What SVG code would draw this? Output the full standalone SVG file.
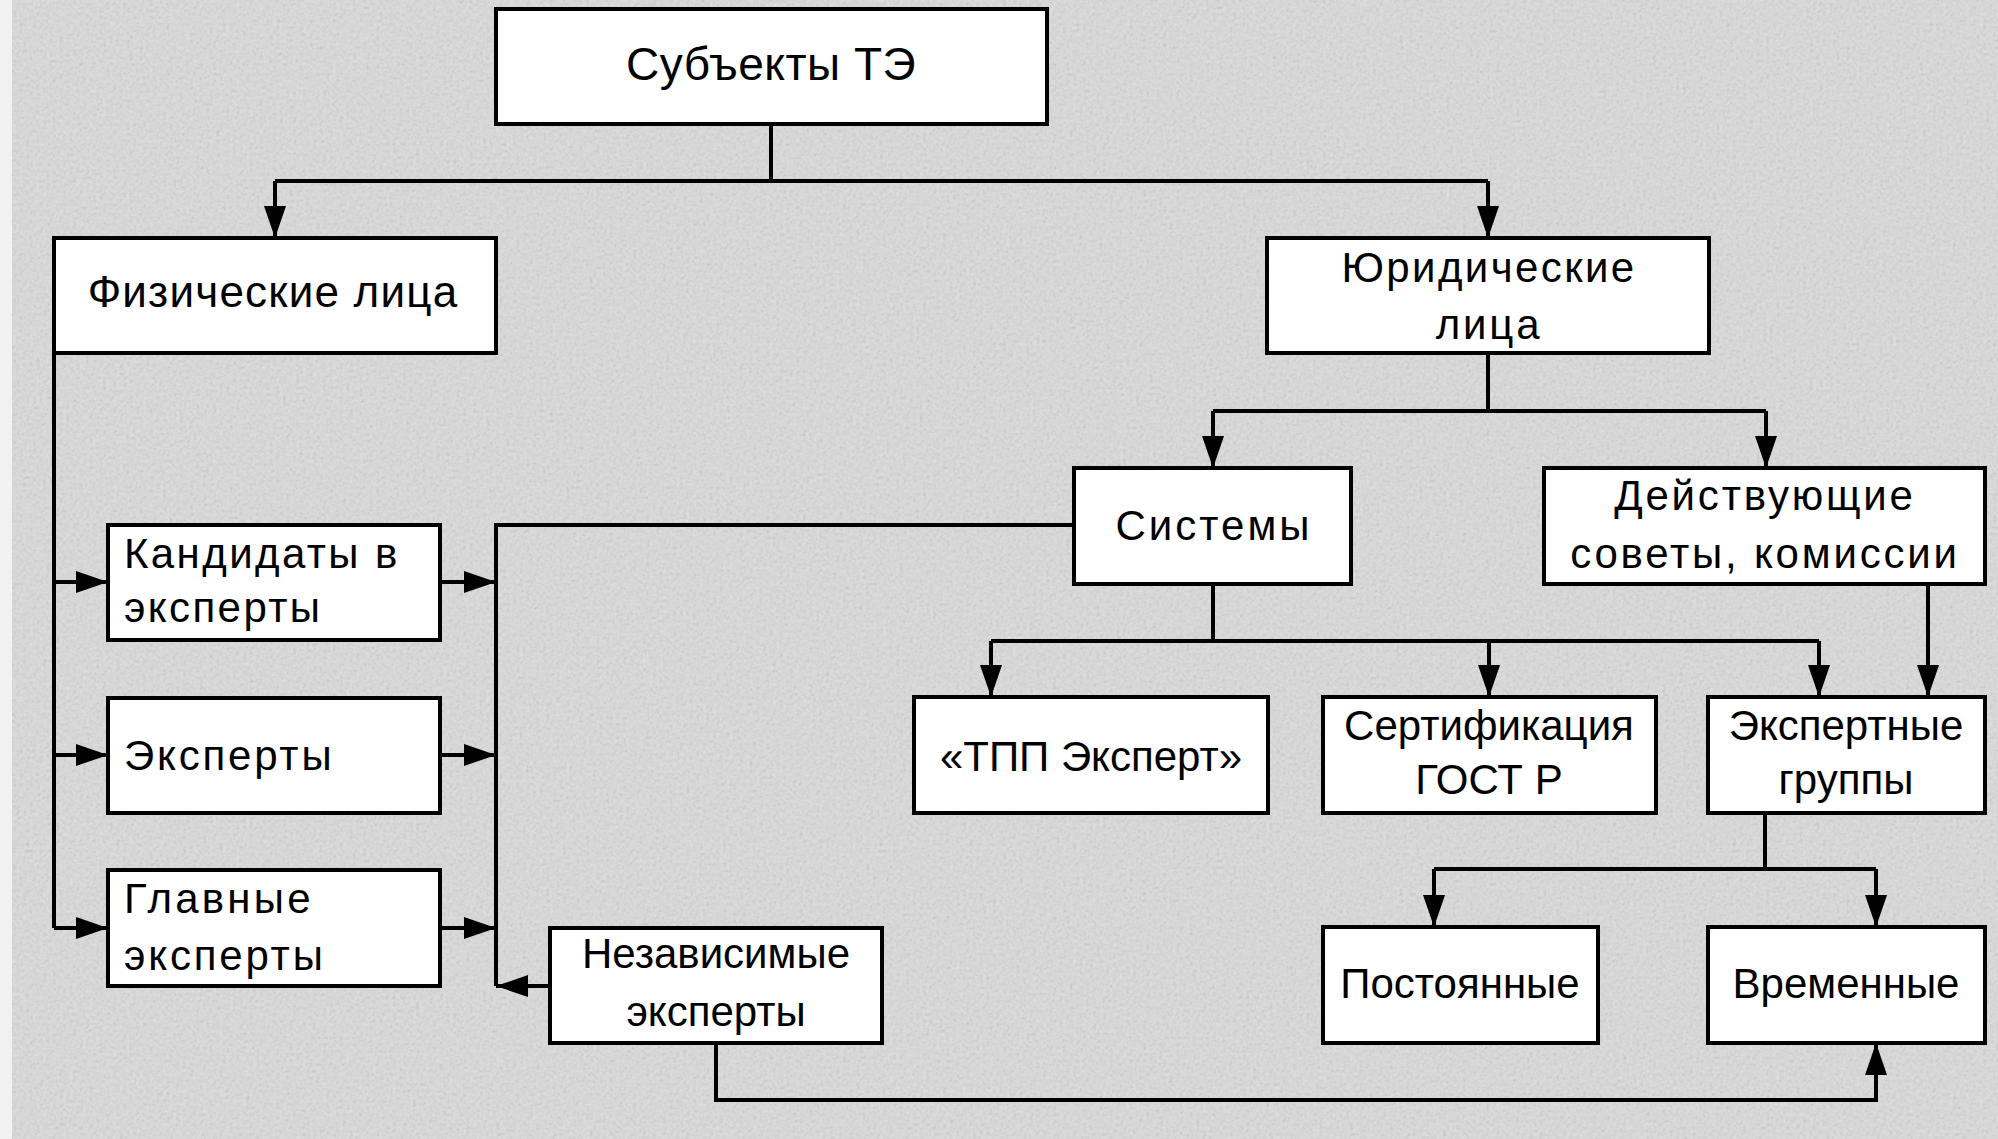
<svg xmlns="http://www.w3.org/2000/svg" width="1998" height="1139" viewBox="0 0 1998 1139">
<defs>
  <filter id="noise" x="0" y="0" width="100%" height="100%">
    <feTurbulence type="fractalNoise" baseFrequency="0.3" numOctaves="2" seed="7"/>
    <feColorMatrix type="saturate" values="0"/>
  </filter>
  <marker id="arr" markerUnits="userSpaceOnUse" markerWidth="32" markerHeight="22" viewBox="0 0 32 22" refX="32" refY="11" orient="auto">
    <path d="M0,0 L32,11 L0,22 z" fill="#000"/>
  </marker>
  <style>
    .box { fill: #ffffff; stroke: #000; stroke-width: 4; }
    .t { font-family: "Liberation Sans", Arial, sans-serif; font-size: 42px; fill: #000; }
    .c { text-anchor: middle; }
    .sp { letter-spacing: 2.8px; }
    .ln { fill: none; stroke: #000; stroke-width: 4; }
    .a { marker-end: url(#arr); }
  </style>
</defs>
<rect x="0" y="0" width="1998" height="1139" fill="#dcdcdc"/>
<rect x="0" y="0" width="1998" height="1139" filter="url(#noise)" opacity="0.35"/>
<rect x="0" y="0" width="12" height="1139" fill="#f2f2f2"/>

<g id="connectors">
  <path class="ln" d="M771,124 V181"/>
  <path class="ln" d="M275,181 H1488"/>
  <path class="ln a" d="M275,181 V238"/>
  <path class="ln a" d="M1488,181 V238"/>
  <path class="ln" d="M54,353 V928"/>
  <path class="ln a" d="M54,582 H108"/>
  <path class="ln a" d="M54,755 H108"/>
  <path class="ln a" d="M54,928 H108"/>
  <path class="ln a" d="M440,582 H496"/>
  <path class="ln a" d="M440,755 H496"/>
  <path class="ln a" d="M440,928 H496"/>
  <path class="ln" d="M1074,525 H496 V986"/>
  <path class="ln a" d="M550,986 H496"/>
  <path class="ln a" d="M716,1043 V1100 H1876 V1043"/>
  <path class="ln" d="M1488,353 V411"/>
  <path class="ln" d="M1213,411 H1766"/>
  <path class="ln a" d="M1213,411 V468"/>
  <path class="ln a" d="M1766,411 V468"/>
  <path class="ln" d="M1213,584 V641"/>
  <path class="ln" d="M991,641 H1819"/>
  <path class="ln a" d="M991,641 V697"/>
  <path class="ln a" d="M1489,641 V697"/>
  <path class="ln a" d="M1819,641 V697"/>
  <path class="ln a" d="M1928,584 V697"/>
  <path class="ln" d="M1765,813 V869"/>
  <path class="ln" d="M1434,869 H1876"/>
  <path class="ln a" d="M1434,869 V927"/>
  <path class="ln a" d="M1876,869 V927"/>
</g>

<g id="n-subjects"><rect class="box" x="496" y="9" width="551" height="115"/><text class="t c" x="771" y="80" style="font-size:46px;letter-spacing:0.5px">Субъекты ТЭ</text></g>
<g id="n-fiz"><rect class="box" x="54" y="238" width="442" height="115"/><text class="t c" x="273" y="307" style="font-size:44px;letter-spacing:1.2px">Физические лица</text></g>
<g id="n-yur"><rect class="box" x="1267" y="238" width="442" height="115"/><text class="t c" x="1489" y="282" style="letter-spacing:2.4px">Юридические</text><text class="t c sp" x="1489" y="339">лица</text></g>
<g id="n-sys"><rect class="box" x="1074" y="468" width="277" height="116"/><text class="t c" x="1214" y="540" style="letter-spacing:3px">Системы</text></g>
<g id="n-dey"><rect class="box" x="1544" y="468" width="441" height="116"/><text class="t c sp" x="1765" y="510">Действующие</text><text class="t c sp" x="1765" y="568">советы, комиссии</text></g>
<g id="n-kand"><rect class="box" x="108" y="525" width="332" height="115"/><text class="t" x="124" y="568" style="letter-spacing:2.4px">Кандидаты в</text><text class="t" x="124" y="622" style="letter-spacing:2.4px">эксперты</text></g>
<g id="n-exp"><rect class="box" x="108" y="698" width="332" height="115"/><text class="t sp" x="124" y="770">Эксперты</text></g>
<g id="n-glav"><rect class="box" x="108" y="870" width="332" height="116"/><text class="t" x="124" y="913" style="letter-spacing:3.2px">Главные</text><text class="t sp" x="124" y="970">эксперты</text></g>
<g id="n-nez"><rect class="box" x="550" y="928" width="332" height="115"/><text class="t c" x="716" y="968">Независимые</text><text class="t c" x="716" y="1026">эксперты</text></g>
<g id="n-tpp"><rect class="box" x="914" y="697" width="354" height="116"/><text class="t c" x="1091" y="771">«ТПП Эксперт»</text></g>
<g id="n-sert"><rect class="box" x="1323" y="697" width="333" height="116"/><text class="t c" x="1489" y="740">Сертификация</text><text class="t c" x="1489" y="794">ГОСТ Р</text></g>
<g id="n-egr"><rect class="box" x="1708" y="697" width="277" height="116"/><text class="t c" x="1846" y="740">Экспертные</text><text class="t c" x="1846" y="794">группы</text></g>
<g id="n-post"><rect class="box" x="1323" y="927" width="275" height="116"/><text class="t c" x="1460" y="998">Постоянные</text></g>
<g id="n-vrem"><rect class="box" x="1708" y="927" width="277" height="116"/><text class="t c" x="1846" y="998">Временные</text></g>
</svg>
